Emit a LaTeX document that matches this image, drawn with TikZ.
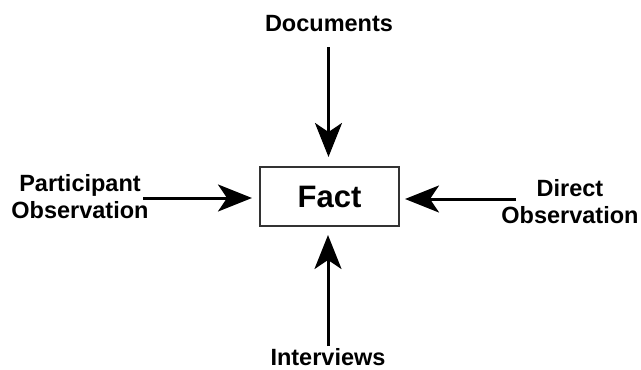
\documentclass[tikz,border=0pt]{standalone}
\usepackage{fontspec}
\setmainfont{Liberation Sans}
\usetikzlibrary{arrows.meta}
\begin{document}
\begin{tikzpicture}[x=1pt,y=-1pt,
  label/.style={font=\bfseries\fontsize{23.5}{27}\selectfont, align=center, inner sep=0pt},
  feed/.style={line width=3pt, -{Stealth[length=34pt,width=27pt,inset=9pt]}},
  factbox/.style={draw=black!80, line width=1.5pt, minimum width=139pt, minimum height=59pt,
    inner sep=0pt, font=\bfseries\fontsize{31}{31}\selectfont}]
  \useasboundingbox (0,0) rectangle (641,370);
  % central box
  \node[factbox] (fact) at (329.5,196.5) {Fact};
  % sources
  \node[label] (doc) at (329,24) {Documents};
  \node[label] (int) at (328,357.5) {Interviews};
  \node[label] (part) at (80,197) {Participant\\Observation};
  \node[label] (dir) at (570,202) {Direct\\Observation};
  % arrow start and tip points
  \coordinate (docA) at (328.5,47);
  \coordinate (intA) at (328,346);
  \coordinate (partA) at (143,198);
  \coordinate (dirA) at (516,199);
  \coordinate (docT) at (328.5,157);
  \coordinate (intT) at (328,235);
  \coordinate (partT) at (252,198);
  \coordinate (dirT) at (405,199);
  \draw[feed] (docA) -- (docT);
  \draw[feed] (intA) -- (intT);
  \draw[feed] (partA) -- (partT);
  \draw[feed] (dirA) -- (dirT);
\end{tikzpicture}
\end{document}
